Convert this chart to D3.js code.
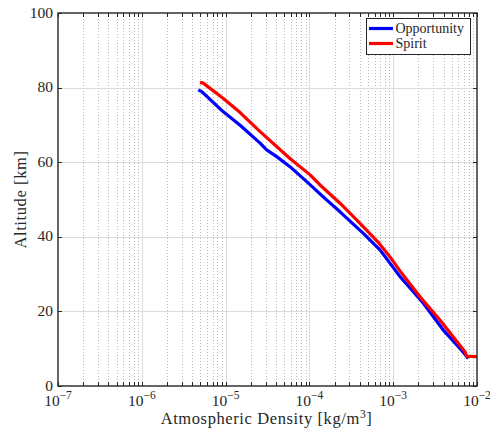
<!DOCTYPE html>
<html>
<head>
<meta charset="utf-8">
<script src="https://cdn.jsdelivr.net/npm/d3@7"></script>
<style>
  html, body { margin: 0; padding: 0; background: #fff; }
  svg text { font-family: "Liberation Serif", "Times New Roman", serif; fill: #262626; }
</style>
</head>
<body>
<svg id="chart" width="490" height="433"></svg>
<script>
// Density profiles [kg/m^3] vs altitude [km] for the two rover entries
const opportunityDensity = [4.72e-6, 5.19e-6, 9.4e-6, 1.49e-5, 2.58e-5, 3.09e-5, 4.07e-5, 5.86e-5, 9.29e-5, 1.53e-4, 2.32e-4, 4.40e-4, 6.95e-4, 9.68e-4, 1.21e-3, 2.29e-3, 3.96e-3, 6.26e-3, 7.87e-3];
const opportunityAltitude = [79.4, 78.9, 73.5, 69.9, 65.1, 63.3, 61.5, 58.8, 54.8, 50.3, 46.7, 40.9, 36.5, 32.2, 29.3, 22.2, 15.0, 10.1, 7.4];
const spiritDensity = [4.95e-6, 5.42e-6, 9.4e-6, 1.49e-5, 2.58e-5, 5.86e-5, 1.02e-4, 1.34e-4, 2.32e-4, 4.02e-4, 6.59e-4, 9.16e-4, 1.21e-3, 2.09e-3, 3.61e-3, 7.18e-3, 7.53e-3, 1.0e-2];
const spiritAltitude = [81.4, 81.2, 77.1, 73.3, 68.2, 61.0, 56.6, 53.9, 49.0, 43.6, 38.6, 34.6, 30.8, 23.9, 17.7, 9.2, 8.0, 7.9];

const xDecades = [-7, -6, -5, -4, -3, -2];
const yTicks = [0, 20, 40, 60, 80, 100];
const seriesNames = ["Opportunity", "Spirit"];
const seriesColors = ["#0000ff", "#ff0000"];

const svg = d3.select("#chart");
const L = 58, R = 477, T = 13, B = 386;

const x = d3.scaleLog().domain([1e-7, 1e-2]).range([L, R]);
const y = d3.scaleLinear().domain([0, 100]).range([B, T]);

// minor log ticks (2..9 in each decade)
const minor = [];
for (let e = -7; e < -2; e++) for (let k = 2; k <= 9; k++) minor.push(k * Math.pow(10, e));

const g = svg.append("g");

// minor grid (dotted)
g.selectAll(".mg").data(minor).enter().append("line")
  .attr("x1", d => Math.round(x(d)) + 0.5).attr("x2", d => Math.round(x(d)) + 0.5)
  .attr("y1", T).attr("y2", B)
  .attr("stroke", "#b8b8b8").attr("stroke-width", 1).attr("stroke-dasharray", "1,2");

// major grid
g.selectAll(".gx").data(xDecades.slice(1, -1)).enter().append("line")
  .attr("x1", d => Math.round(x(Math.pow(10, d))) + 0.5).attr("x2", d => Math.round(x(Math.pow(10, d))) + 0.5)
  .attr("y1", T).attr("y2", B).attr("stroke", "#dcdcdc").attr("stroke-width", 1);
g.selectAll(".gy").data(yTicks.slice(1, -1)).enter().append("line")
  .attr("x1", L).attr("x2", R)
  .attr("y1", d => Math.round(y(d)) + 0.5).attr("y2", d => Math.round(y(d)) + 0.5)
  .attr("stroke", "#dcdcdc").attr("stroke-width", 1);

// data lines, clipped to the plot box
svg.append("defs").append("clipPath").attr("id", "clip")
  .append("rect").attr("x", L).attr("y", T).attr("width", R - L).attr("height", B - T);

const line = d3.line().x(d => x(d[0])).y(d => y(d[1]));
const series = [
  d3.zip(opportunityDensity, opportunityAltitude),
  d3.zip(spiritDensity, spiritAltitude)
];
const lines = svg.append("g").attr("clip-path", "url(#clip)");
series.forEach((s, i) => {
  lines.append("path").datum(s).attr("d", line)
    .attr("fill", "none").attr("stroke", seriesColors[i])
    .attr("stroke-width", 3.2).attr("stroke-linejoin", "round");
});

// ticks (inward, on all four sides)
const tk = svg.append("g").attr("stroke", "#262626").attr("stroke-width", 1);
const allX = minor.concat(xDecades.map(d => Math.pow(10, d)));
allX.forEach(v => {
  const px = Math.round(x(v)) + 0.5;
  tk.append("line").attr("x1", px).attr("x2", px).attr("y1", B).attr("y2", B - 4);
  tk.append("line").attr("x1", px).attr("x2", px).attr("y1", T).attr("y2", T + 4);
});
yTicks.forEach(v => {
  const py = Math.round(y(v)) + 0.5;
  tk.append("line").attr("x1", L).attr("x2", L + 4).attr("y1", py).attr("y2", py);
  tk.append("line").attr("x1", R).attr("x2", R - 4).attr("y1", py).attr("y2", py);
});

// frame
svg.append("rect").attr("x", L).attr("y", T).attr("width", R - L).attr("height", B - T)
  .attr("fill", "none").attr("stroke", "#262626").attr("stroke-width", 1.4);

// x tick labels
xDecades.forEach(e => {
  const t = svg.append("text").attr("x", x(Math.pow(10, e))).attr("y", 405.5)
    .attr("text-anchor", "middle").attr("font-size", 15.5);
  t.append("tspan").text("10");
  t.append("tspan").attr("dy", -6.5).attr("font-size", 11.5).text("\u2212" + Math.abs(e));
});

// y tick labels
svg.selectAll(".yl").data(yTicks).enter().append("text")
  .attr("x", 53).attr("y", d => y(d) + 4.5)
  .attr("text-anchor", "end").attr("font-size", 15.5).text(d => d);

// axis titles
const xt = svg.append("text").attr("x", (L + R) / 2 - 1).attr("y", 424)
  .attr("text-anchor", "middle").attr("font-size", 16.5).attr("letter-spacing", 0.6);
xt.append("tspan").text("Atmospheric Density [kg/m");
xt.append("tspan").attr("dy", -6).attr("font-size", 11.5).text("3");
xt.append("tspan").attr("dy", 6).text("]");

svg.append("text").attr("transform", `translate(26,${(T + B) / 2}) rotate(-90)`)
  .attr("text-anchor", "middle").attr("font-size", 16.5).attr("letter-spacing", 0.6)
  .text("Altitude [km]");

// legend
const lg = svg.append("g");
lg.append("rect").attr("x", 366.5).attr("y", 18.5).attr("width", 104).attr("height", 36)
  .attr("fill", "#fff").attr("stroke", "#262626").attr("stroke-width", 1);
seriesNames.forEach((n, i) => {
  const cy = 28.5 + i * 15;
  lg.append("line").attr("x1", 369).attr("x2", 393).attr("y1", cy).attr("y2", cy)
    .attr("stroke", seriesColors[i]).attr("stroke-width", 3.2);
  lg.append("text").attr("x", 395.5).attr("y", cy + 4.5).attr("font-size", 14).text(n);
});
</script>
</body>
</html>
